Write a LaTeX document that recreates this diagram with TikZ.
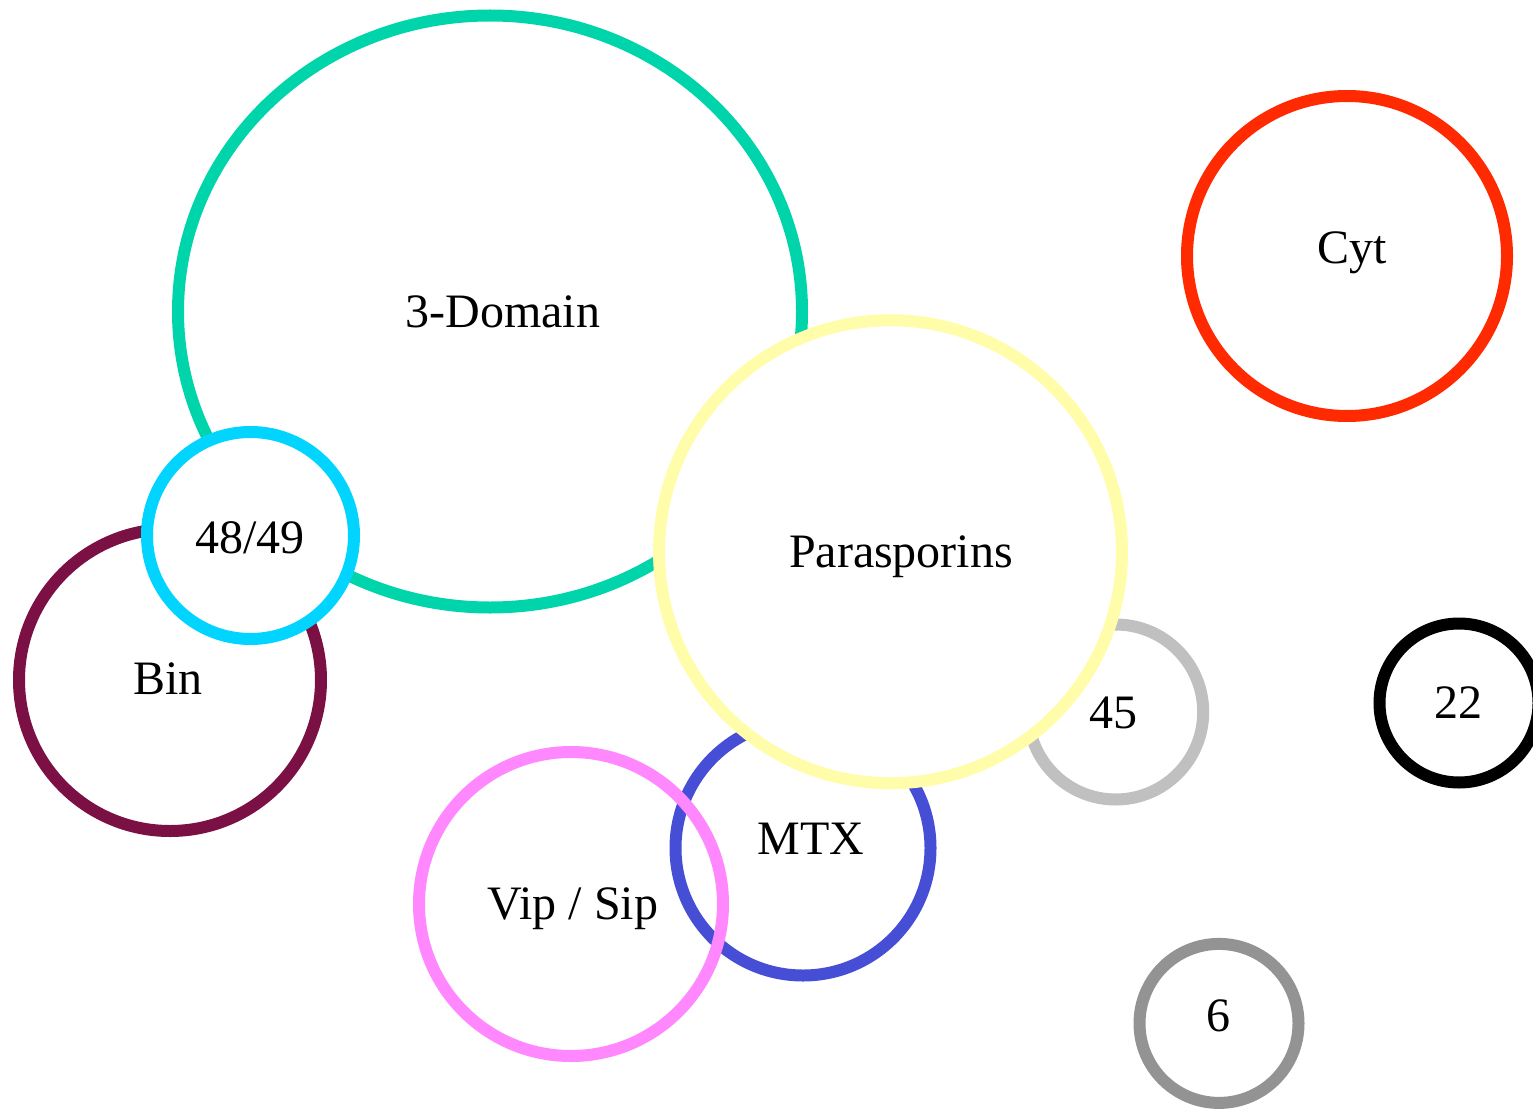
\documentclass[tikz,border=0pt]{standalone}
\usepackage{fontspec}
\setmainfont{Liberation Serif}
\usetikzlibrary{shapes.geometric}
\definecolor{cDom}{RGB}{0,212,170}
\definecolor{cFE}{RGB}{0,212,255}
\definecolor{cBin}{RGB}{123,16,69}
\definecolor{cPara}{RGB}{255,253,170}
\definecolor{cCyt}{RGB}{255,42,0}
\definecolor{cFF}{RGB}{192,192,192}
\definecolor{cSix}{RGB}{147,147,147}
\definecolor{cMTX}{RGB}{70,78,214}
\definecolor{cVip}{RGB}{255,136,255}
\begin{document}
\begin{tikzpicture}[x=1pt,y=-1pt,
  ring/.style={circle,draw,line width=12pt,fill=white,inner sep=0pt,minimum size=#1},
  lbl/.style={anchor=base,font=\fontsize{48}{58}\selectfont,inner sep=0pt}]
\useasboundingbox (0,0) rectangle (1533,1110);
\node[ellipse,draw=cDom,line width=12pt,fill=white,minimum width=624pt,minimum height=592pt,inner sep=0pt] (dom) at (490,311.5) {};
\node[ring=302pt,draw=cBin] (bin) at (170,680) {};
\node[ring=207pt,draw=cFE] (fe) at (250.5,535.5) {};
\node[ring=175pt,draw=cFF] (ff) at (1115.7,712) {};
\node[ring=255pt,draw=cMTX] (mtx) at (803,848) {};
\node[ring=463pt,draw=cPara] (para) at (890.5,551.75) {};
\node[ring=304pt,draw=cVip,fill=none] (vip) at (571,904) {};
\node[ring=320pt,draw=cCyt] (cyt) at (1347,256) {};
\node[ring=159pt,draw=black] (tt) at (1459,703) {};
\node[ring=159pt,draw=cSix] (six) at (1219,1023.4) {};
\node[lbl] (ldom) at (503,327) {3-Domain};
\node[lbl] (lbin) at (168,694) {Bin};
\node[lbl] (lfe) at (250,553) {48/49};
\node[lbl] (lff) at (1113.7,728.5) {45};
\node[lbl] (lmtx) at (811,854) {MTX};
\node[lbl] (lpara) at (901,567) {Parasporins};
\node[lbl] (lvip) at (573,919.5) {Vip / Sip};
\node[lbl] (lcyt) at (1352,263) {Cyt};
\node[lbl] (ltt) at (1458,718.5) {22};
\node[lbl] (lsix) at (1218,1031.5) {6};
\end{tikzpicture}
\end{document}
